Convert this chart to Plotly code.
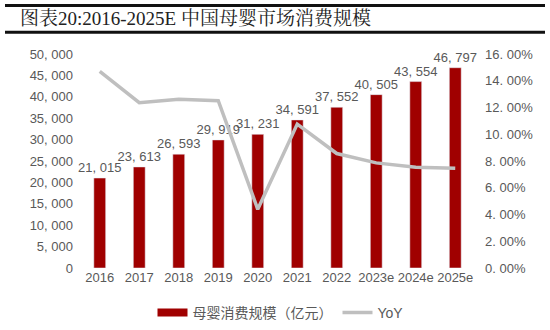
import plotly.graph_objects as go

years = ["2016", "2017", "2018", "2019", "2020", "2021", "2022", "2023e", "2024e", "2025e"]
scale = [21015, 23613, 26593, 29919, 31231, 34591, 37552, 40505, 43554, 46797]
yoy = [0.147, 0.1236, 0.1262, 0.1251, 0.0439, 0.1076, 0.0856, 0.0786, 0.0753, 0.0745]
left_ticks = [0, 5000, 10000, 15000, 20000, 25000, 30000, 35000, 40000, 45000, 50000]
right_ticks = [0, 0.02, 0.04, 0.06, 0.08, 0.10, 0.12, 0.14, 0.16]

font_cn = "Liberation Sans, Noto Sans CJK SC, sans-serif"
grey = "#595959"
red = "#A00000"

# plot area in pixels: x 80..475, y 54..270
def px(x):
    return (x - 80) / 395.0

def py(y):
    return (270 - y) / 216.0

def fmt(v):
    return f"{v:,}".replace(",", ", ")

fig = go.Figure()
fig.add_trace(go.Bar(
    x=years, y=scale, name="母婴消费规模（亿元）", showlegend=False,
    marker_color=red, width=0.3,
    text=[fmt(v) for v in scale], textposition="outside", constraintext="none",
    textfont=dict(size=13, color=grey), cliponaxis=False,
))
# legend swatch for the bars (wide rectangle)
fig.add_trace(go.Scatter(
    x=[None], y=[None], name="母婴消费规模（亿元）", mode="lines",
    line=dict(color=red, width=8),
))
fig.add_trace(go.Scatter(
    x=years, y=yoy, name="YoY", yaxis="y2", mode="lines",
    line=dict(color="#BFBFBF", width=3.5),
))

fig.update_layout(
    width=550, height=330,
    margin=dict(l=80, r=75, t=54, b=60),
    paper_bgcolor="white", plot_bgcolor="white",
    font=dict(family=font_cn, color=grey, size=12),
    showlegend=True,
    legend=dict(orientation="h", x=0.51, xanchor="center", xref="container",
                y=1 - 313 / 330, yanchor="middle", yref="container",
                font=dict(size=14, color=grey), tracegroupgap=0),
    xaxis=dict(showgrid=False, showline=False, ticks="", tickfont=dict(size=13, color=grey)),
    yaxis=dict(range=[0, 50000], tickvals=left_ticks, ticktext=[fmt(v) for v in left_ticks],
               showgrid=False, showline=False, zeroline=False, ticklabelstandoff=6,
               tickfont=dict(size=13, color=grey)),
    yaxis2=dict(range=[0, 0.16], tickvals=right_ticks, ticktext=[f"{v*100:.2f}%".replace(".", ". ") for v in right_ticks],
                overlaying="y", side="right", ticklabelstandoff=9,
                showgrid=False, showline=False, zeroline=False, tickfont=dict(size=13, color=grey)),
)

fig.add_annotation(text="图表20:2016-2025E 中国母婴市场消费规模", xref="paper", yref="paper",
                   x=px(18), y=py(18), xanchor="left", yanchor="middle", showarrow=False,
                   font=dict(size=19, color="#222222", family="Liberation Serif, Noto Serif CJK SC, Noto Sans CJK SC"))
fig.add_shape(type="line", xref="paper", yref="paper", x0=px(5), x1=px(545), y0=py(5), y1=py(5),
              line=dict(color="#111111", width=3))
fig.add_shape(type="line", xref="paper", yref="paper", x0=px(5), x1=px(545), y0=py(32), y1=py(32),
              line=dict(color="#111111", width=3))

fig.write_html("out.html")
